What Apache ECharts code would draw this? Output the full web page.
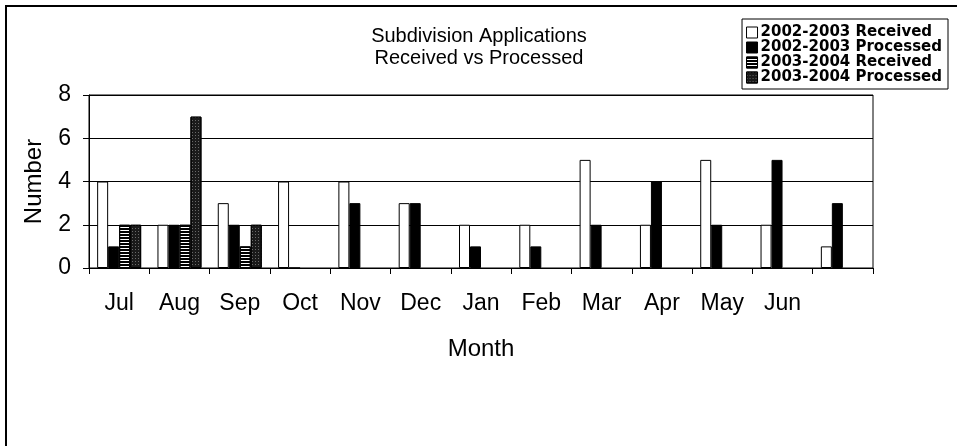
<!DOCTYPE html>
<html>
<head>
<meta charset="utf-8">
<script src="https://cdn.jsdelivr.net/npm/echarts@6/dist/echarts.min.js"></script>
<style>
  html, body { margin: 0; padding: 0; background: #fff; }
  #chart { width: 957px; height: 446px; }
</style>
</head>
<body>
<div id="chart"></div>
<script>
// 13 slots on the axis, the last one has no label
const months = ['Jul', 'Aug', 'Sep', 'Oct', 'Nov', 'Dec', 'Jan', 'Feb', 'Mar', 'Apr', 'May', 'Jun', ''];
const received0203 = [4, 2, 3, 4, 4, 3, 2, 2, 5, 2, 5, 2, 1];
const processed0203 = [1, 2, 2, 0, 3, 3, 1, 1, 2, 4, 2, 5, 3];
const received0304 = [2, 2, 1, '-', '-', '-', '-', '-', '-', '-', '-', '-', '-'];
const processed0304 = [2, 7, 2, '-', '-', '-', '-', '-', '-', '-', '-', '-', '-'];
const yTicks = [0, 2, 4, 6, 8];

const FONT = 'Liberation Sans, Arial, sans-serif';

const chart = echarts.init(document.getElementById('chart'));

function barSeries(name, data, style) {
  return {
    name: name,
    type: 'bar',
    data: data,
    barWidth: 11,
    barGap: '0%',
    itemStyle: Object.assign({ borderColor: '#000', borderWidth: 1 }, style),
    emphasis: { disabled: true }
  };
}

const option = {
  backgroundColor: '#fff',
  animation: false,
  title: {
    text: 'Subdivision Applications\nReceived vs Processed',
    left: 474,
    textAlign: 'center',
    top: 20,
    textStyle: { fontFamily: FONT, fontSize: 20, fontWeight: 'normal', color: '#000', lineHeight: 22 }
  },
  legend: {
    orient: 'vertical',
    right: 9,
    top: 19,
    padding: [6, 6, 4, 4],
    itemGap: 0,
    itemWidth: 11,
    itemHeight: 11,
    itemStyle: { borderColor: '#000', borderWidth: 1 },
    borderColor: '#000',
    borderWidth: 1,
    icon: 'rect',
    textStyle: { fontFamily: 'DejaVu Sans', fontWeight: 'bold', fontSize: 15, lineHeight: 13, color: '#000', padding: [0, 0, 0, -2] }
  },
  grid: {
    left: 89,
    right: 84,
    top: 95,
    bottom: 178,
    show: true,
    borderColor: '#000',
    borderWidth: 1
  },
  xAxis: {
    type: 'category',
    data: months,
    name: 'Month',
    nameLocation: 'middle',
    nameGap: 69,
    nameTextStyle: { fontFamily: FONT, fontSize: 24, color: '#000' },
    axisLine: { lineStyle: { color: '#000', width: 1 } },
    axisTick: { show: true, length: 6, lineStyle: { color: '#000' } },
    axisLabel: { fontFamily: FONT, fontSize: 23, color: '#000', margin: 24, interval: 0 }
  },
  yAxis: {
    type: 'value',
    min: yTicks[0],
    max: yTicks[yTicks.length - 1],
    interval: 2,
    name: 'Number',
    nameLocation: 'middle',
    nameGap: 43,
    nameTextStyle: { fontFamily: FONT, fontSize: 24, color: '#000' },
    axisLine: { show: true, lineStyle: { color: '#000', width: 1 } },
    axisTick: { show: true, length: 6, lineStyle: { color: '#000' } },
    axisLabel: { fontFamily: FONT, fontSize: 23, color: '#000', margin: 18 },
    splitLine: { lineStyle: { color: '#000', width: 1 } }
  },
  graphic: [{
    type: 'rect',
    shape: { x: 6, y: 6, width: 980, height: 480 },
    style: { fill: null, stroke: '#000', lineWidth: 2 },
    silent: true
  }],
  series: [
    barSeries('2002-2003 Received', received0203, { color: '#fff' }),
    barSeries('2002-2003 Processed', processed0203, { color: '#000' }),
    barSeries('2003-2004 Received', received0304, {
      color: '#fff',
      decal: { symbol: 'rect', symbolSize: 1, dashArrayX: [1, 0], dashArrayY: [2, 1], color: '#000' }
    }),
    barSeries('2003-2004 Processed', processed0304, {
      color: '#1a1a1a',
      decal: { symbol: 'rect', symbolSize: 1, dashArrayX: [1, 2], dashArrayY: [1, 2], color: 'rgba(255,255,255,0.35)' }
    })
  ]
};

chart.setOption(option);
</script>
</body>
</html>
